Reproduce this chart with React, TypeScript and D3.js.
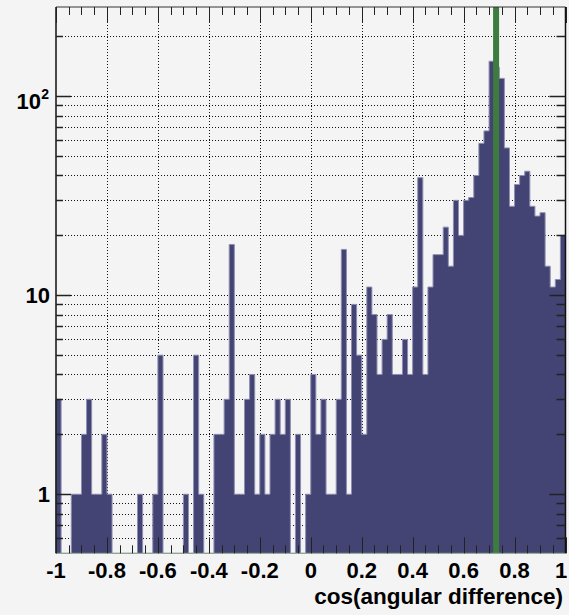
import React from "react";
import * as d3 from "d3";

// Histogram definition: 100 bins from -1 to 1
const binLow = -1;
const binHigh = 1;
const counts = [
  3, 0, 0, 1, 1, 2, 3, 1, 1, 2,
  1, 0, 0, 0, 0, 0, 1, 0, 0, 1,
  5, 0, 0, 0, 0, 1, 0, 5, 1, 0,
  0, 2, 2, 3, 18, 1, 1, 3, 4, 1,
  2, 1, 2, 3, 2, 3, 0, 2, 0, 1,
  4, 2, 3, 1, 1, 3, 17, 1, 9, 5,
  2, 11, 8, 4, 6, 8, 4, 4, 6, 4,
  11, 39, 4, 11, 16, 16, 22, 14, 30, 20,
  30, 31, 40, 58, 67, 150, 140, 123, 55, 28,
  36, 40, 42, 28, 25, 26, 14, 11, 12, 20,
];
const markerValue = 0.7275;

const xTickValues = [-1, -0.8, -0.6, -0.4, -0.2, 0, 0.2, 0.4, 0.6, 0.8, 1];
const xTickLabels = ["-1", "-0.8", "-0.6", "-0.4", "-0.2", "0", "0.2", "0.4", "0.6", "0.8", "1"];
const xMinorStep = 0.05;
const yMajorValues = [1, 10, 100];
const yMinorValues = [0.6, 0.7, 0.8, 0.9, 2, 3, 4, 5, 6, 7, 8, 9, 20, 30, 40, 50, 60, 70, 80, 90, 200];
const xTitle = "cos(angular difference)";

const W = 569;
const H = 615;
const L = 56;
const R = 565.5;
const T = 7;
const B = 553.3;

const BG = "#f4f4f4";
const FILL = "#434374";
const EDGE = "#8e8eb2";
const GREEN = "#3d7b3f";
const FONT = "'Liberation Sans', Arial, Helvetica, sans-serif";

export default function App() {
  const x = d3.scaleLinear().domain([binLow, binHigh]).range([L, R]);
  const y = d3.scaleLog().domain([0.505, 281]).range([B, T]);
  const n = counts.length;
  const bw = (binHigh - binLow) / n;
  const edges = d3.range(n + 1).map((i) => binLow + i * bw);

  // step outline path (also used as filled area)
  let outline = `M${x(edges[0])},${B}`;
  counts.forEach((c, i) => {
    const yy = c > 0 ? y(c) : B;
    outline += `L${x(edges[i])},${yy}L${x(edges[i + 1])},${yy}`;
  });
  outline += `L${x(edges[n])},${B}`;

  const minorX = d3.range(Math.round((binHigh - binLow) / xMinorStep) + 1).map((i) => binLow + i * xMinorStep);
  const px = (v: number) => Math.round(v) + 0.5;

  return (
    <svg
      width={W}
      height={H}
      style={{ position: "absolute", left: 0, top: 0, background: BG }}
    >
      <rect x={0} y={0} width={W} height={H} fill={BG} />
      {/* grid */}
      <g stroke="#111" strokeWidth={1} strokeDasharray="1,2" fill="none">
        {xTickValues.slice(1, -1).map((v) => (
          <line key={"gx" + v} x1={px(x(v))} x2={px(x(v))} y1={T} y2={B} />
        ))}
        {[...yMajorValues, ...yMinorValues].map((v) => (
          <line key={"gy" + v} x1={L} x2={R} y1={px(y(v))} y2={px(y(v))} />
        ))}
      </g>
      {/* bars */}
      <path d={outline + "Z"} fill={FILL} stroke="none" />
      <path d={outline} fill="none" stroke={EDGE} strokeWidth={1} />
      {/* marker line */}
      <line x1={x(markerValue)} x2={x(markerValue)} y1={T} y2={B} stroke={GREEN} strokeWidth={6} />
      {/* frame */}
      <line x1={L} x2={R} y1={B} y2={B} stroke="#8aa88a" strokeWidth={1} />
      <line x1={L} x2={R} y1={T} y2={T} stroke="#333" strokeWidth={1} />
      <line x1={L} x2={L} y1={T} y2={B} stroke="#111" strokeWidth={1.5} />
      <line x1={R} x2={R} y1={T} y2={B} stroke="#111" strokeWidth={1.5} />
      {/* ticks */}
      <g stroke="#222" strokeWidth={1}>
        {minorX.map((v, i) => {
          const major = i % 4 === 0;
          const len = major ? 16 : 8;
          const xx = px(x(v));
          return (
            <g key={"tx" + i}>
              <line x1={xx} x2={xx} y1={B} y2={B - len} />
              <line x1={xx} x2={xx} y1={T} y2={T + len} />
            </g>
          );
        })}
        {yMajorValues.map((v) => (
          <g key={"tyM" + v}>
            <line x1={L} x2={L + 15} y1={px(y(v))} y2={px(y(v))} strokeWidth={1.5} />
            <line x1={R} x2={R - 16} y1={px(y(v))} y2={px(y(v))} strokeWidth={1.5} />
          </g>
        ))}
        {yMinorValues.map((v) => (
          <g key={"tym" + v}>
            <line x1={L} x2={L + 7} y1={px(y(v))} y2={px(y(v))} strokeWidth={1.5} />
            <line x1={R} x2={R - 9} y1={px(y(v))} y2={px(y(v))} strokeWidth={1.5} />
          </g>
        ))}
      </g>
      {/* x tick labels */}
      <g fontFamily={FONT} fontWeight="bold" fontSize={22} fill="#000" textAnchor="middle">
        {xTickValues.map((v, i) => (
          <text key={"lx" + v} x={Math.min(x(v), 561)} y={578}>
            {xTickLabels[i]}
          </text>
        ))}
      </g>
      {/* y tick labels */}
      <g fontFamily={FONT} fontWeight="bold" fontSize={22} fill="#000" textAnchor="end">
        <text x={50} y={y(1) + 8}>1</text>
        <text x={50} y={y(10) + 8}>10</text>
        <text x={41} y={y(100) + 13}>10</text>
        <text x={49} y={y(100) + 3} fontSize={14}>2</text>
      </g>
      <text
        x={563}
        y={604}
        textAnchor="end"
        fontFamily={FONT}
        fontWeight="bold"
        fontSize={22.5}
        fill="#000"
      >
        {xTitle}
      </text>
    </svg>
  );
}
